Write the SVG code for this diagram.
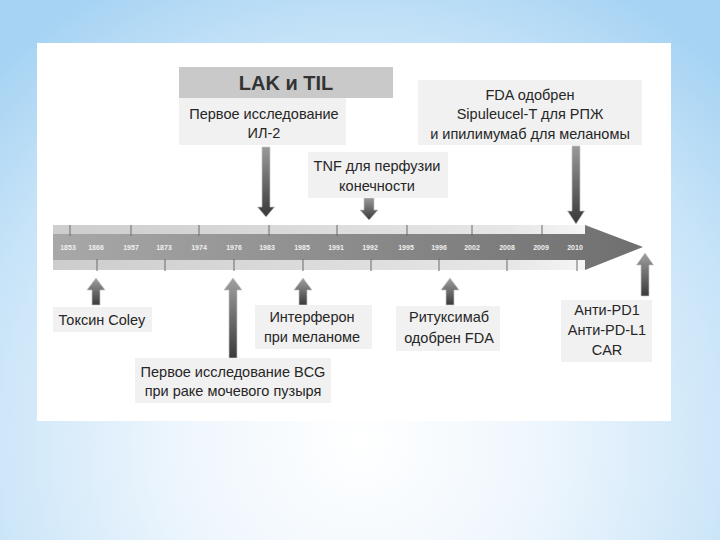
<svg xmlns="http://www.w3.org/2000/svg" width="720" height="540" viewBox="0 0 720 540">
<defs>
<radialGradient id="bg" cx="360" cy="440" r="520" gradientUnits="userSpaceOnUse">
<stop offset="0" stop-color="#ffffff"/>
<stop offset="0.35" stop-color="#eef6fd"/>
<stop offset="0.75" stop-color="#c8e4f8"/>
<stop offset="1" stop-color="#a6d3f3"/>
</radialGradient>
<linearGradient id="band" x1="0" y1="0" x2="1" y2="0">
<stop offset="0" stop-color="#cdcdcd"/>
<stop offset="0.85" stop-color="#e6e6e6"/>
<stop offset="1" stop-color="#f6f6f6"/>
</linearGradient>
<linearGradient id="shaft" x1="0" y1="0" x2="1" y2="0">
<stop offset="0" stop-color="#a8a8a8"/>
<stop offset="1" stop-color="#6f6f6f"/>
</linearGradient>
<linearGradient id="dn" x1="0" y1="0" x2="0" y2="1">
<stop offset="0" stop-color="#9a9a9a"/>
<stop offset="1" stop-color="#383838"/>
</linearGradient>
<linearGradient id="up" x1="0" y1="0" x2="0" y2="1">
<stop offset="0" stop-color="#a0a0a0"/>
<stop offset="1" stop-color="#3a3a3a"/>
</linearGradient>
<style>
.box{fill:#f1f1f1}
.t{font-family:"Liberation Sans",Arial,sans-serif;font-size:14.5px;fill:#262626;text-anchor:middle}
.yr{font-family:"Liberation Sans",Arial,sans-serif;font-size:7px;font-weight:bold;fill:#f0f0f0;text-anchor:middle}
.tick{stroke:#6a6a6a;stroke-width:1}
.dn{fill:url(#dn);stroke:#c4c4c4;stroke-width:0.7}
.up{fill:url(#up);stroke:#c4c4c4;stroke-width:0.7}
</style>
</defs>
<rect x="0" y="0" width="720" height="540" fill="url(#bg)"/>
<rect x="37" y="43" width="634" height="378" fill="#ffffff"/>

<g id="timeline">
<rect x="53" y="225" width="535" height="45" fill="url(#band)"/>
<path d="M53,234 H585 V225 L643,247 L585,270 V260 H53 Z" fill="url(#shaft)"/>
<g class="tick">
<line x1="70" y1="225" x2="70" y2="236"/>
<line x1="131" y1="225" x2="131" y2="236"/>
<line x1="199" y1="225" x2="199" y2="236"/>
<line x1="269" y1="225" x2="269" y2="236"/>
<line x1="337" y1="225" x2="337" y2="236"/>
<line x1="407" y1="225" x2="407" y2="236"/>
<line x1="472" y1="225" x2="472" y2="236"/>
<line x1="542" y1="225" x2="542" y2="236"/>
<line x1="97" y1="259" x2="97" y2="271"/>
<line x1="165" y1="259" x2="165" y2="271"/>
<line x1="234" y1="259" x2="234" y2="271"/>
<line x1="303" y1="259" x2="303" y2="271"/>
<line x1="371" y1="259" x2="371" y2="271"/>
<line x1="439" y1="259" x2="439" y2="271"/>
<line x1="507" y1="259" x2="507" y2="271"/>
<line x1="577" y1="259" x2="577" y2="271"/>
</g>
<g class="yr">
<text x="68" y="249.5">1853</text>
<text x="96" y="249.5">1866</text>
<text x="131" y="249.5">1957</text>
<text x="164" y="249.5">1873</text>
<text x="199" y="249.5">1974</text>
<text x="234" y="249.5">1976</text>
<text x="267" y="249.5">1983</text>
<text x="302" y="249.5">1985</text>
<text x="336" y="249.5">1991</text>
<text x="370" y="249.5">1992</text>
<text x="406" y="249.5">1995</text>
<text x="439" y="249.5">1996</text>
<text x="472" y="249.5">2002</text>
<text x="507" y="249.5">2008</text>
<text x="541" y="249.5">2009</text>
<text x="575" y="249.5">2010</text>
</g>
</g>

<g id="connectors">
<path class="dn" d="M262,147 H270 V207 H274.5 L266,217 L257.5,207 H262 Z"/>
<path class="dn" d="M364,198 H374 V210 H378 L369,220 L360,210 H364 Z"/>
<path class="dn" d="M572,146 H580 V211 H584.5 L576,224 L567.5,211 H572 Z"/>
<path class="up" d="M92,305 H100 V290 H105 L96,278 L87,290 H92 Z"/>
<path class="up" d="M229,358 H237 V290 H242 L233,278 L224,290 H229 Z"/>
<path class="up" d="M299,305 H307 V290 H312 L303,278 L294,290 H299 Z"/>
<path class="up" d="M446,305 H454 V290 H459 L450,278 L441,290 H446 Z"/>
<path class="up" d="M641,296 H649 V265 H653.5 L645,253 L636.5,265 H641 Z"/>
</g>

<g id="lak">
<rect x="179" y="67" width="214" height="31" fill="#c9c9c9"/>
<text x="286" y="90" style="font-family:'Liberation Sans',Arial,sans-serif;font-size:20px;font-weight:bold;fill:#333;text-anchor:middle">LAK и TIL</text>
</g>
<g id="il2">
<rect class="box" x="179" y="98" width="167" height="47"/>
<text class="t" x="264" y="119">Первое исследование</text>
<text class="t" x="264" y="138">ИЛ-2</text>
</g>
<g id="tnf">
<rect class="box" x="308" y="152" width="140" height="46"/>
<text class="t" x="377" y="171">TNF для перфузии</text>
<text class="t" x="377" y="191">конечности</text>
</g>
<g id="fda">
<rect class="box" x="418" y="80" width="224" height="65"/>
<text class="t" x="530" y="100">FDA одобрен</text>
<text class="t" x="530" y="119">Sipuleucel-T для РПЖ</text>
<text class="t" x="530" y="139">и ипилимумаб для меланомы</text>
</g>
<g id="coley">
<rect class="box" x="53" y="307" width="99" height="25"/>
<text class="t" x="102" y="325">Токсин Coley</text>
</g>
<g id="interferon">
<rect class="box" x="255" y="305" width="117" height="44"/>
<text class="t" x="312" y="322">Интерферон</text>
<text class="t" x="312" y="342">при меланоме</text>
</g>
<g id="bcg">
<rect class="box" x="135" y="358" width="196" height="45"/>
<text class="t" x="233" y="377">Первое исследование BCG</text>
<text class="t" x="233" y="396">при раке мочевого пузыря</text>
</g>
<g id="rituximab">
<rect class="box" x="396" y="306" width="104" height="45"/>
<text class="t" x="449" y="322">Ритуксимаб</text>
<text class="t" x="449" y="343">одобрен FDA</text>
</g>
<g id="anti">
<rect class="box" x="561" y="300" width="91" height="62"/>
<text class="t" x="607" y="315">Анти-PD1</text>
<text class="t" x="607" y="335">Анти-PD-L1</text>
<text class="t" x="607" y="355">CAR</text>
</g>
</svg>
